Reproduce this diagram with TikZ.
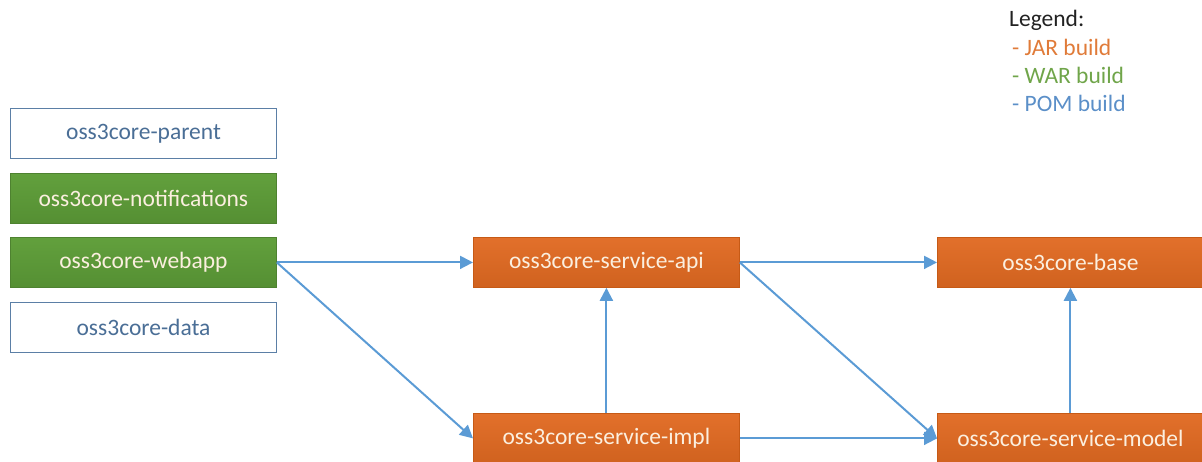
\documentclass[tikz,border=0pt]{standalone}
\usepackage{fontspec}
\setmainfont{Carlito}
\usetikzlibrary{arrows.meta}
\definecolor{jarfill}{HTML}{E2702B}
\definecolor{jardark}{HTML}{D0621F}
\definecolor{jarline}{HTML}{C65A16}
\definecolor{warfill}{HTML}{62A03D}
\definecolor{wardark}{HTML}{558F33}
\definecolor{warline}{HTML}{4E8230}
\definecolor{pomline}{HTML}{5B7FA6}
\definecolor{pomtext}{HTML}{4A6E96}
\definecolor{boxtext}{HTML}{FBEFDF}
\definecolor{linkblue}{HTML}{5B9BD5}
\definecolor{legjar}{HTML}{E07B39}
\definecolor{legwar}{HTML}{70A54A}
\definecolor{legpom}{HTML}{5B8FC8}
\definecolor{legtext}{HTML}{222222}
\tikzset{
  x=1pt, y=-1pt,
  module/.style={minimum width=266pt, minimum height=50pt, inner sep=0pt,
    font=\fontsize{23.5}{26}\selectfont, anchor=north west},
  jarbox/.style={module, draw=jarline, line width=0.8pt,
    top color=jarfill, bottom color=jardark, text=boxtext},
  warbox/.style={module, draw=warline, line width=0.8pt,
    top color=warfill, bottom color=wardark, text=boxtext},
  pombox/.style={module, draw=pomline, line width=1pt, fill=white, text=pomtext},
  link/.style={draw=linkblue, line width=2pt,
    -{Triangle[length=13pt, width=13pt]}},
  legendline/.style={font=\fontsize{23.5}{26}\selectfont, anchor=west, inner sep=0pt}
}
\begin{document}
\begin{tikzpicture}
\useasboundingbox (0,0) rectangle (1202,461);

% left column of modules
\node[pombox] (parent) at (10,108) {oss3core-parent};
\node[warbox] (notif)  at (10,173) {oss3core-notifications};
\node[warbox] (webapp) at (10,237) {oss3core-webapp};
\node[pombox] (data)   at (10,302) {oss3core-data};

% service layer
\node[jarbox] (api)  at (473,237) {oss3core-service-api};
\node[jarbox] (impl) at (473,413) {oss3core-service-impl};

% core layer
\node[jarbox] (base)  at (937,237) {oss3core-base};
\node[jarbox] (model) at (937,413) {oss3core-service-model};

% dependencies
\draw[link] (webapp.east) -- (api.west);
\draw[link] (webapp.east) -- (impl.west);
\draw[link] (impl.north) -- (api.south);
\draw[link] (api.east) -- (base.west);
\draw[link] (api.east) -- (model.west);
\draw[link] (impl.east) -- (model.west);
\draw[link] (model.north) -- (base.south);

% legend
\node[legendline, text=legtext] (leg)  at (1009,20) {Legend:};
\node[legendline, text=legjar]  (ljar) at (1012,47) {- JAR build};
\node[legendline, text=legwar]  (lwar) at (1012,75) {- WAR build};
\node[legendline, text=legpom]  (lpom) at (1012,103) {- POM build};
\end{tikzpicture}
\end{document}
